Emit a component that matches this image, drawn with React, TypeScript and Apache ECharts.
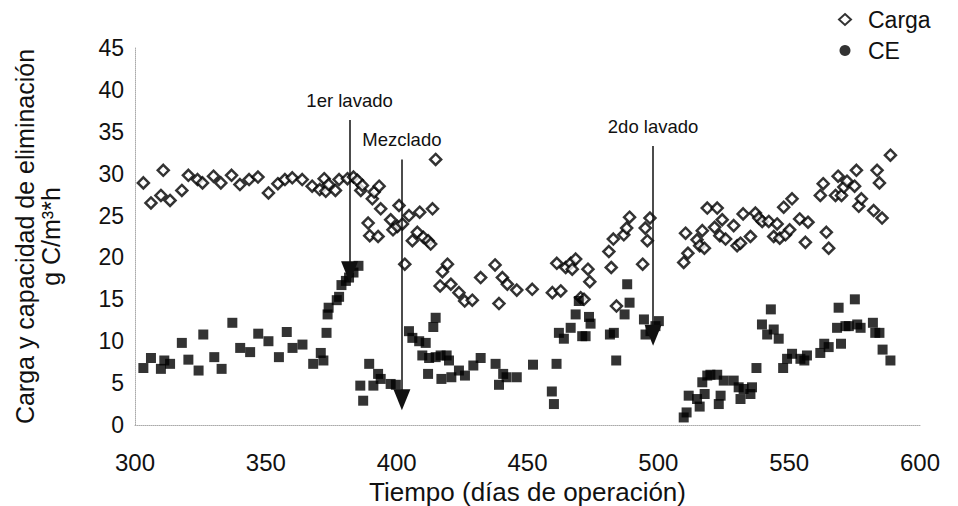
import React, { useEffect, useRef } from "react";
import * as echarts from "echarts";

const cargaDays = [303.2, 306.1, 309.9, 310.8, 313.4, 317.9, 320.4, 323.9, 325.8, 330.0, 332.8, 336.9, 340.1, 343.6, 347.0, 351.0, 354.6, 357.3, 360.1, 363.9, 367.7, 370.6, 372.3, 372.9, 374.0, 376.6, 378.0, 381.2, 383.5, 385.0, 386.3, 386.9, 389.1, 389.7, 390.7, 391.4, 392.9, 393.3, 393.9, 397.7, 398.6, 400.3, 400.9, 402.2, 403.1, 404.7, 406.0, 407.9, 408.8, 410.2, 412.0, 413.0, 413.7, 414.9, 416.6, 417.5, 419.4, 420.7, 423.8, 426.0, 428.9, 432.1, 437.6, 439.1, 440.4, 442.3, 445.9, 451.8, 459.5, 461.2, 462.7, 464.6, 466.5, 467.1, 468.4, 470.3, 471.6, 473.1, 473.8, 481.1, 482.0, 482.8, 484.0, 486.8, 487.9, 489.0, 494.0, 495.0, 495.8, 496.8, 509.7, 510.4, 511.3, 514.8, 515.8, 516.8, 517.6, 518.7, 521.5, 522.5, 523.5, 524.4, 525.7, 528.8, 530.1, 531.4, 532.4, 535.2, 537.1, 538.4, 539.7, 542.2, 544.1, 545.4, 546.4, 547.9, 548.6, 550.2, 551.1, 554.0, 556.2, 557.2, 561.9, 563.0, 564.2, 565.1, 567.7, 568.7, 570.0, 570.9, 572.1, 575.0, 575.7, 576.6, 577.6, 582.3, 583.6, 584.5, 585.5, 588.7];
const cargaValues = [28.9, 26.5, 27.4, 30.4, 26.8, 28.0, 29.8, 29.3, 28.9, 29.7, 28.9, 29.8, 28.7, 29.3, 29.6, 27.7, 28.8, 29.3, 29.5, 29.3, 28.5, 28.1, 29.4, 27.9, 28.7, 28.0, 29.3, 29.4, 29.6, 29.2, 28.0, 28.6, 24.1, 22.6, 27.0, 27.8, 22.5, 28.5, 25.8, 24.5, 23.3, 23.7, 26.2, 24.0, 19.2, 25.0, 22.0, 23.0, 25.4, 22.4, 22.0, 21.6, 25.8, 31.7, 16.6, 18.3, 19.2, 16.8, 15.8, 14.8, 14.9, 17.6, 19.1, 14.5, 17.6, 16.8, 16.1, 16.2, 15.8, 19.3, 16.0, 18.8, 19.3, 18.6, 19.8, 15.2, 15.0, 18.6, 17.1, 20.7, 18.8, 22.2, 14.2, 22.7, 23.5, 24.8, 19.2, 23.5, 22.0, 24.7, 19.4, 22.9, 20.5, 22.1, 21.4, 23.2, 21.1, 25.9, 23.6, 25.9, 22.6, 24.5, 22.2, 23.8, 21.4, 21.7, 25.2, 22.5, 25.3, 24.7, 24.3, 24.3, 22.5, 24.0, 22.3, 26.0, 22.7, 23.3, 27.0, 24.6, 21.8, 24.2, 27.4, 28.8, 23.0, 21.1, 27.4, 29.7, 27.4, 28.4, 29.1, 28.5, 30.4, 26.1, 27.0, 25.6, 30.4, 28.9, 24.7, 32.2];

const ceDays = [303.2, 306.1, 309.9, 311.2, 313.4, 317.9, 320.4, 324.3, 326.1, 330.3, 333.1, 337.2, 340.2, 344.0, 347.1, 351.0, 355.0, 358.0, 360.2, 364.0, 368.1, 371.0, 372.0, 373.2, 373.6, 374.0, 377.1, 378.0, 378.9, 380.6, 381.8, 383.5, 385.4, 386.1, 387.2, 389.5, 391.1, 392.9, 393.9, 397.7, 399.7, 404.7, 406.0, 408.6, 409.8, 411.1, 412.0, 412.4, 414.0, 414.9, 414.9, 416.8, 417.1, 419.1, 420.0, 420.9, 423.8, 426.1, 429.3, 432.1, 437.8, 439.1, 440.7, 442.0, 445.9, 452.1, 459.3, 460.1, 461.1, 462.0, 463.9, 466.5, 468.4, 469.6, 470.9, 472.2, 473.5, 474.1, 481.5, 483.0, 483.9, 487.1, 488.1, 489.0, 494.5, 495.1, 497.0, 498.9, 500.2, 509.7, 510.8, 511.6, 514.8, 515.8, 516.8, 517.7, 518.7, 519.9, 522.5, 523.1, 523.8, 525.0, 528.8, 530.7, 531.4, 532.6, 535.2, 535.8, 537.5, 539.6, 541.6, 543.0, 544.1, 546.0, 547.7, 549.2, 551.1, 554.3, 555.8, 556.8, 561.9, 563.4, 565.1, 568.3, 568.9, 569.8, 571.5, 572.8, 575.1, 576.0, 577.3, 582.0, 582.9, 584.5, 585.7, 588.7];
const ceValues = [6.8, 8.0, 6.7, 7.7, 7.3, 9.8, 7.8, 6.5, 10.8, 8.1, 6.7, 12.2, 9.2, 8.7, 10.9, 10.0, 8.1, 11.1, 9.2, 9.6, 7.3, 8.6, 7.7, 11.0, 13.2, 14.0, 14.9, 15.3, 16.7, 17.2, 17.6, 18.2, 19.0, 4.7, 2.9, 7.3, 4.7, 6.1, 5.5, 4.9, 4.8, 11.2, 10.4, 10.0, 8.3, 9.8, 6.1, 8.0, 11.7, 12.8, 8.1, 8.3, 5.5, 8.3, 7.7, 5.7, 6.5, 5.9, 7.1, 8.0, 7.3, 4.8, 6.1, 5.7, 5.7, 7.2, 4.0, 2.5, 7.3, 11.0, 10.3, 11.6, 13.2, 14.8, 10.6, 10.6, 12.9, 12.1, 10.8, 11.0, 7.7, 13.2, 16.8, 14.6, 12.6, 10.8, 11.2, 11.8, 12.4, 0.9, 1.5, 3.5, 3.1, 2.2, 5.1, 3.7, 5.9, 6.0, 6.0, 2.5, 3.5, 5.3, 5.3, 4.5, 3.1, 4.3, 3.7, 4.5, 6.8, 12.0, 10.8, 13.8, 11.4, 10.3, 6.8, 7.9, 8.5, 7.9, 7.7, 8.3, 8.6, 9.7, 9.3, 11.6, 14.0, 9.7, 11.8, 11.8, 15.0, 12.0, 11.6, 12.2, 11.0, 11.0, 9.0, 7.7];

const events = ["1er lavado", "Mezclado", "2do lavado"];
const eventDays = [382, 402, 498];
const eventTop = [36.4, 31.7, 33.3];
const eventEnd = [18.3, 3.0, 10.7];

const xTicks = [300, 600, 50];
const yTicks = [0, 45, 5];

const FONT = "'Liberation Sans', Arial, sans-serif";

export default function App() {
  const ref = useRef<HTMLDivElement>(null);
  useEffect(() => {
    if (!ref.current) return;
    const chart = echarts.init(ref.current, null, { renderer: "svg" });
    const carga = cargaDays.map((d, i) => [d, cargaValues[i]]);
    const ce = ceDays.map((d, i) => [d, ceValues[i]]);
    chart.setOption({
      animation: false,
      backgroundColor: "#fff",
      grid: { left: 127, right: 38, top: 40, bottom: 81, outerBoundsMode: "none", containLabel: false },
      legend: {
        orient: "vertical",
        left: 830,
        top: 0,
        padding: 0,
        itemGap: 8,
        itemWidth: 12,
        itemHeight: 11,
        textStyle: { fontFamily: FONT, fontSize: 23, color: "#111", padding: [0, 0, 0, 12] },
        data: [
          { name: "Carga", icon: "diamond" },
          { name: "CE", icon: "circle" },
        ],
      },
      xAxis: {
        type: "value",
        min: xTicks[0],
        max: xTicks[1],
        interval: xTicks[2],
        name: "Tiempo (días de operación)",
        nameLocation: "middle",
        nameGap: 52,
        nameTextStyle: { fontFamily: FONT, fontSize: 26, color: "#111" },
        axisLine: { show: true, lineStyle: { color: "#aaa", type: "dotted", width: 1 } },
        axisTick: { show: false },
        splitLine: { show: false },
        axisLabel: { fontFamily: FONT, fontSize: 24, color: "#111", margin: 25 },
      },
      yAxis: {
        type: "value",
        min: yTicks[0],
        max: yTicks[1],
        interval: yTicks[2],
        name: "Carga y capacidad de eliminación\ng C/m³*h",
        nameLocation: "middle",
        nameRotate: 90,
        nameGap: 71,
        nameTextStyle: { fontFamily: FONT, fontSize: 25, color: "#111", lineHeight: 26, align: "center" },
        axisLine: { show: true, lineStyle: { color: "#aaa", type: "dotted", width: 1 } },
        axisTick: { show: false },
        splitLine: { show: false },
        axisLabel: { fontFamily: FONT, fontSize: 23, color: "#111", margin: 11 },
      },
      series: [
        {
          name: "Carga",
          type: "scatter",
          symbol: "diamond",
          symbolSize: 11,
          itemStyle: { color: "#fff", borderColor: "#000", borderWidth: 2.5 },
          data: carga,
          z: 3,
        },
        {
          name: "CE",
          type: "scatter",
          symbol: "rect",
          symbolSize: 10,
          itemStyle: { color: "#000" },
          data: ce,
          z: 4,
          markLine: {
            silent: true,
            symbol: ["none", "triangle"],
            symbolSize: [17, 21],
            lineStyle: { color: "#111", width: 1.5, type: "solid" },
            label: {
              show: true,
              position: "start",
              distance: 10,
              fontFamily: FONT,
              fontSize: 18.5,
              color: "#111",
              formatter: (p: any) => p.name,
            },
            data: events.map((name, i) => [
              { name, coord: [eventDays[i], eventTop[i]] },
              { coord: [eventDays[i], eventEnd[i]] },
            ]),
          },
        },
      ],
    });
    return () => chart.dispose();
  }, []);
  return <div ref={ref} style={{ width: 950, height: 498 }} />;
}
